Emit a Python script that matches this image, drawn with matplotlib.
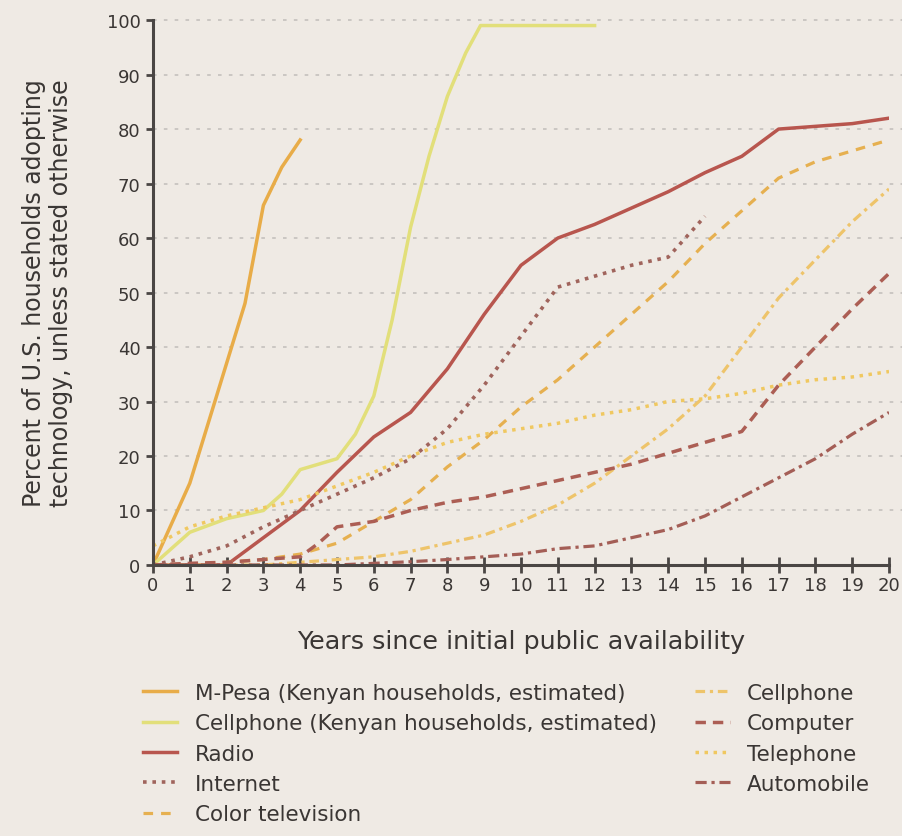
import matplotlib.pyplot as plt

plt.rcParams['font.family'] = ['DejaVu Sans']

# years since availability and adoption values (%)
mpesa_x = [0, 1, 2, 2.5, 3, 3.5, 4]
mpesa_y = [0, 15, 37, 48, 66, 73, 78]

kenya_cell_x = [0, 1, 2, 3, 3.5, 4, 5, 5.5, 6, 6.5, 7, 7.5, 8, 8.5, 8.9, 12]
kenya_cell_y = [0, 6, 8.5, 10, 13, 17.5, 19.5, 24, 31, 45, 62, 75, 86, 94, 99, 99]

radio_x = list(range(0, 21))
radio_y = [0, 0, 0, 5, 10, 17, 23.5, 28, 36, 46, 55, 60, 62.5, 65.5, 68.5, 72, 75, 80, 80.5, 81, 82]

internet_x = list(range(0, 16))
internet_y = [0, 1.5, 3.5, 7, 10, 13, 16, 19.5, 25, 33, 42, 51, 53, 55, 56.5, 64]

colortv_x = list(range(0, 21))
colortv_y = [0, 0.2, 0.5, 1, 2, 4, 8, 12, 18, 23, 29, 34, 40, 46, 52, 59, 65, 71, 74, 76, 78]

cell_x = list(range(0, 21))
cell_y = [0, 0, 0, 0, 0.5, 1, 1.5, 2.5, 4, 5.5, 8, 11, 15, 20, 25, 31, 40, 49, 56, 63, 69]

computer_x = [0, 1, 2, 3, 4, 4.5, 5, 6, 7, 8, 9, 10, 11, 12, 13, 14, 15, 16, 17, 18, 19, 20]
computer_y = [0, 0.3, 0.5, 1, 1.5, 4, 7, 8, 10, 11.5, 12.5, 14, 15.5, 17, 18.5, 20.5, 22.5, 24.5, 33, 40, 47, 53.5]

telephone_x = list(range(0, 21))
telephone_y = [3.5, 7, 9, 10.5, 12, 14.5, 17, 20, 22.5, 24, 25, 26, 27.5, 28.5, 30, 30.5, 31.5, 33, 34, 34.5, 35.5]

auto_x = list(range(0, 21))
auto_y = [0, 0, 0, 0, 0, 0, 0.3, 0.6, 1, 1.5, 2, 3, 3.5, 5, 6.5, 9, 12.5, 16, 19.5, 24, 28]

bg = '#efeae4'
txt = '#3a3634'
fig = plt.figure(figsize=(9.02, 8.37), dpi=100, facecolor=bg)
ax = fig.add_axes([0.1696, 0.3238, 0.816, 0.651])
ax.set_facecolor(bg)

for v in range(10, 101, 10):
    ax.axhline(v, color='#c8c4c0', lw=1.3, ls=(0, (2, 4)), zorder=0, clip_on=False, xmax=1.02)

ax.plot(mpesa_x, mpesa_y, color='#e8ac48', lw=2.5, label='M-Pesa (Kenyan households, estimated)')
ax.plot(kenya_cell_x, kenya_cell_y, color='#e2df7a', lw=2.5, label='Cellphone (Kenyan households, estimated)')
ax.plot(radio_x, radio_y, color='#b8564e', lw=2.5, label='Radio')
ax.plot(internet_x, internet_y, color='#a0645c', lw=2.6, ls=(0, (1, 1.6)), label='Internet')
ax.plot(colortv_x, colortv_y, color='#e6b050', lw=2.3, ls=(0, (3, 2.5)), label='Color television')
ax.plot(cell_x, cell_y, color='#eec46a', lw=2.3, ls=(0, (3, 1.5, 1, 1.5)), label='Cellphone')
ax.plot(computer_x, computer_y, color='#ac5e54', lw=2.5, ls=(0, (3, 2)), label='Computer')
ax.plot(telephone_x, telephone_y, color='#f0c860', lw=2.5, ls=(0, (1, 1.6)), label='Telephone')
ax.plot(auto_x, auto_y, color='#a45e56', lw=2.3, ls=(0, (3.5, 1.5, 1, 1.5)), label='Automobile')

ax.set_xlim(0, 20)
ax.set_ylim(0, 100)
ax.set_xticks(range(0, 21))
ax.set_yticks(range(0, 101, 10))
for s in ['top', 'right']:
    ax.spines[s].set_visible(False)
for s in ['left', 'bottom']:
    ax.spines[s].set_color('#4a4644')
    ax.spines[s].set_linewidth(2.2)
ax.tick_params(axis='y', direction='out', length=5, width=2, color='#4a4644',
               labelsize=13, labelcolor=txt, pad=4)
ax.tick_params(axis='x', direction='inout', length=12, width=2, color='#4a4644',
               labelsize=13, labelcolor=txt, pad=2)

ax.set_ylabel('Percent of U.S. households adopting\ntechnology, unless stated otherwise',
              fontsize=17, color=txt, labelpad=24, linespacing=1.15)
ax.set_xlabel('Years since initial public availability', fontsize=18.3, color=txt, labelpad=25)

leg = fig.legend(loc='upper left', bbox_to_anchor=(143 / 902, 1 - 684 / 837), ncol=2, frameon=False,
                 fontsize=15.5, labelcolor=txt, handlelength=1.6, handletextpad=0.8,
                 labelspacing=0.48, columnspacing=1.8, borderaxespad=0, borderpad=0)

fig.savefig('out.png', dpi=100, facecolor=bg)
